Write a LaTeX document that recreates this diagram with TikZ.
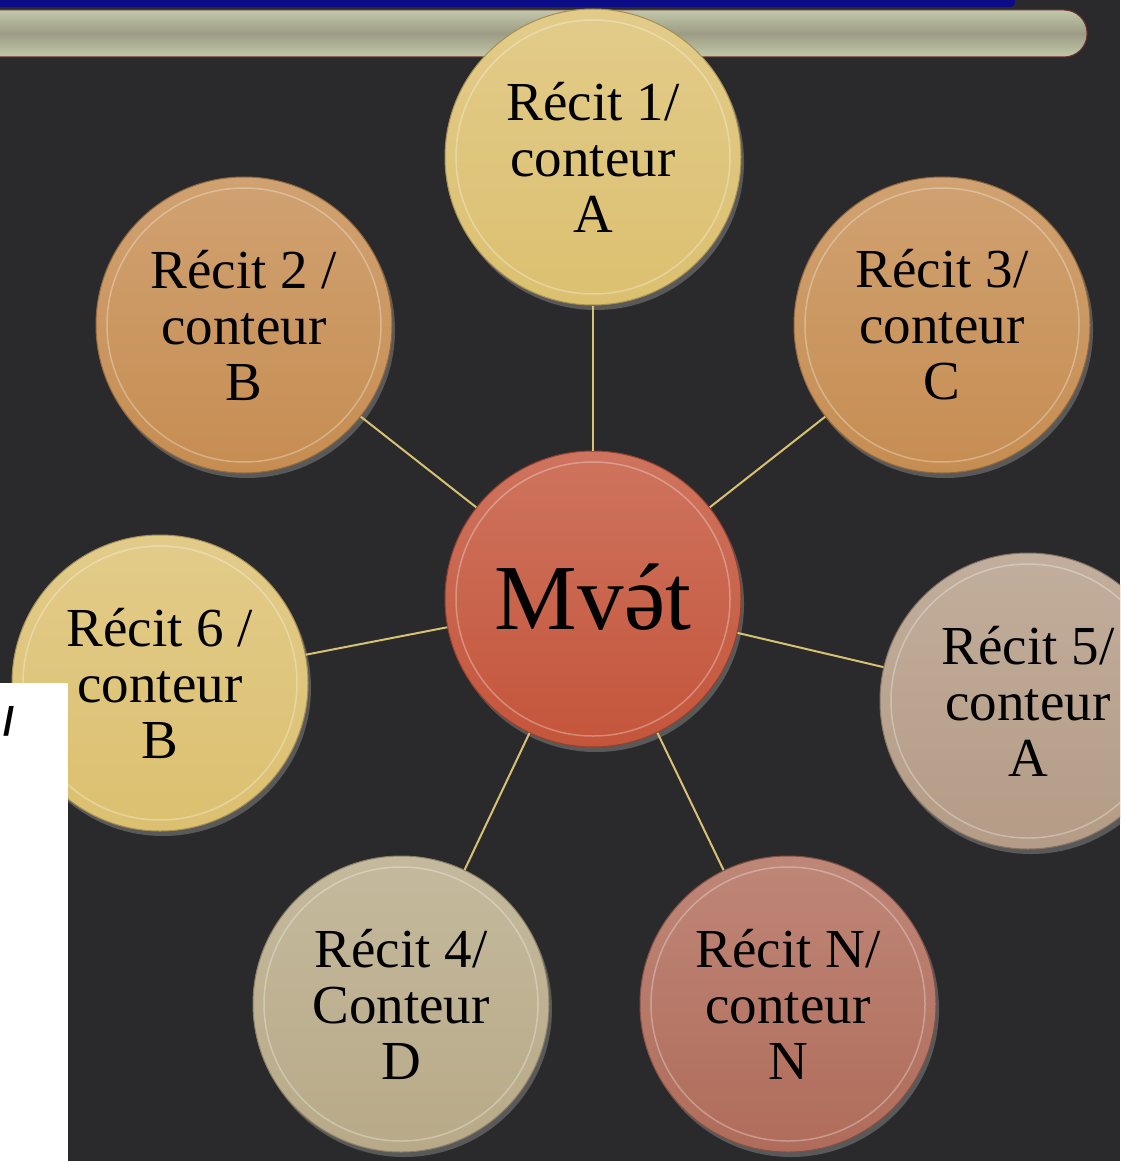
\documentclass[tikz,border=0pt]{standalone}
\usepackage{fontspec}
\setmainfont{Liberation Serif}
\newfontfamily\slashfont{Liberation Sans}
\usetikzlibrary{shadows}

\definecolor{boardgray}{HTML}{2A2A2C}
\definecolor{navyband}{HTML}{0C0C86}
\definecolor{barsage}{HTML}{9C9C84}
\definecolor{barlight}{HTML}{C2C8AA}
\definecolor{barrim}{HTML}{6E3030}
\definecolor{spokeyellow}{HTML}{D6C272}
\definecolor{mvetred}{HTML}{C4553B}
\definecolor{straw}{HTML}{DCC070}
\definecolor{caramel}{HTML}{C68D52}
\definecolor{taupe}{HTML}{B49C86}
\definecolor{khaki}{HTML}{B8AA88}
\definecolor{clay}{HTML}{B06C5A}

\newcommand{\schwaacute}{\ooalign{ə\cr\hidewidth\kern0.1em\smash{\raisebox{0.01em}{\char"00B4}}\hidewidth\cr}}

\begin{document}
\begin{tikzpicture}[x=1pt,y=-1pt,
  bubble/.style={circle,inner sep=0pt,minimum size=296pt,align=center,
    draw=#1!75!black,line width=1pt,top color=#1!82!white,bottom color=#1,
    drop shadow={shadow xshift=3pt,shadow yshift=-5pt,opacity=0.55},
    font=\fontsize{55}{56}\selectfont},
  spoke/.style={draw=spokeyellow,line width=2pt}]
\useasboundingbox (0,0) rectangle (1120,1161);
\clip (0,0) rectangle (1120,1161);
\fill[boardgray] (0,0) rectangle (1120,1161);
\fill[navyband,rounded corners=4pt] (-10,-10) rectangle (1015,7);
\shade[top color=barlight,bottom color=barlight,middle color=barsage,rounded corners=23pt] (-40,10) rectangle (1087,57);
\draw[barrim,line width=1pt,rounded corners=23pt] (-40,10) rectangle (1087,57);

\node[bubble=mvetred,font=\fontsize{93}{100}\selectfont] (mvet) at (593,599) {Mv\schwaacute t};
\node[bubble=straw] (r1) at (593,157) {Récit 1/\\conteur\\A};
\node[bubble=caramel] (r2) at (244,325) {Récit 2 /\\conteur\\B};
\node[bubble=caramel] (r3) at (942,325) {Récit 3/\\conteur\\C};
\node[bubble=straw] (r6) at (160,683) {Récit 6 /\\conteur\\B};
\node[bubble=taupe] (r5) at (1028,701) {Récit 5/\\conteur\\A};
\node[bubble=khaki] (r4) at (401,1004) {Récit 4/\\Conteur\\D};
\node[bubble=clay] (rN) at (788,1004) {Récit N/\\conteur\\N};

\foreach \n in {r1,r2,r3,r4,r5,r6,rN}
  \draw[spoke] (mvet) -- (\n);
\foreach \n in {mvet,r1,r2,r3,r4,r5,r6,rN}
  \draw[white,opacity=0.3,line width=1.5pt] (\n.center) circle (137);

\fill[white] (0,683) rectangle (68,1161);
\node[font=\slashfont\bfseries\fontsize{40}{40}\selectfont,inner sep=0pt] (cut) at (9,721) {/};
\end{tikzpicture}
\end{document}
